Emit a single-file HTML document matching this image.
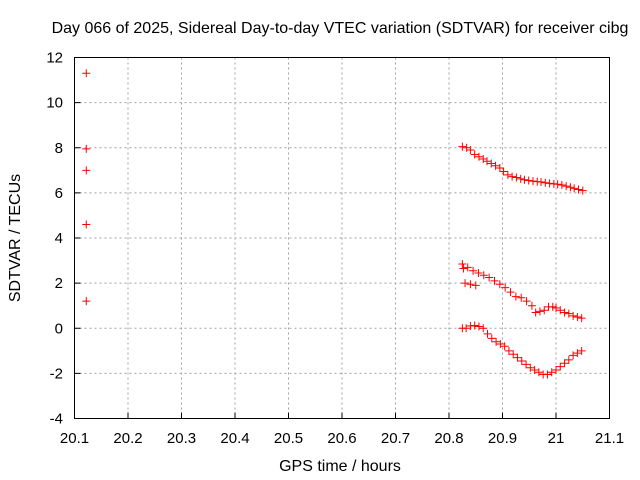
<!DOCTYPE html>
<html><head><meta charset="utf-8"><style>
body{margin:0;background:#fff}
svg{display:block;font-family:"Liberation Sans",sans-serif}
</style></head><body>
<svg id="chart" width="640" height="480" viewBox="0 0 640 480" xmlns="http://www.w3.org/2000/svg">
<rect width="640" height="480" fill="#fff"/>
<text x="340" y="33" text-anchor="middle" font-size="16">Day 066 of 2025, Sidereal Day-to-day VTEC variation (SDTVAR) for receiver cibg</text>
<text x="340" y="471" text-anchor="middle" font-size="16">GPS time / hours</text>
<text transform="translate(20,238) rotate(-90)" text-anchor="middle" font-size="16">SDTVAR / TECUs</text>
<g id="grid"></g><g id="ticks"></g><g id="marks"></g>
<rect x="74.5" y="57.5" width="535" height="361" fill="none" stroke="#000" stroke-width="1"/>
</svg>
<script>
const xTicks=[20.1,20.2,20.3,20.4,20.5,20.6,20.7,20.8,20.9,21,21.1];
const xTickLabels=["20.1","20.2","20.3","20.4","20.5","20.6","20.7","20.8","20.9","21","21.1"];
const yTicks=[-4,-2,0,2,4,6,8,10,12];
const yTickLabels=["-4","-2","0","2","4","6","8","10","12"];
const leftX=[20.122,20.122,20.122,20.122,20.122];
const leftY=[11.3,7.95,7.0,4.6,1.2];
const topX=[20.825,20.833,20.840,20.848,20.856,20.864,20.871,20.879,20.887,20.895,20.902,20.910,20.918,20.926,20.934,20.941,20.949,20.957,20.965,20.972,20.980,20.988,20.996,21.003,21.011,21.019,21.027,21.034,21.042,21.05];
const topY=[8.05,8.0,7.9,7.7,7.6,7.5,7.4,7.3,7.2,7.1,6.95,6.8,6.72,6.68,6.62,6.58,6.55,6.52,6.5,6.48,6.45,6.42,6.4,6.38,6.35,6.3,6.25,6.2,6.15,6.1];
const midX=[20.825,20.827,20.835,20.845,20.855,20.865,20.875,20.885,20.895,20.905,20.915,20.925,20.935,20.945,20.955,20.962,20.97,20.978,20.986,20.994,21.0,21.008,21.016,21.024,21.032,21.04,21.048,20.83,20.84,20.85];
const midY=[2.85,2.65,2.7,2.55,2.45,2.35,2.25,2.1,1.95,1.8,1.6,1.4,1.35,1.2,1.0,0.7,0.75,0.8,0.95,0.95,0.9,0.8,0.7,0.65,0.55,0.5,0.45,2.0,1.95,1.9];
const botX=[20.825,20.832,20.84,20.848,20.856,20.864,20.872,20.88,20.888,20.896,20.904,20.912,20.92,20.928,20.936,20.944,20.952,20.96,20.968,20.976,20.984,20.992,21.0,21.008,21.016,21.024,21.032,21.04,21.048];
const botY=[0.0,0.0,0.1,0.12,0.08,0.0,-0.25,-0.45,-0.6,-0.7,-0.8,-1.0,-1.15,-1.3,-1.45,-1.6,-1.75,-1.85,-1.95,-2.05,-2.05,-1.95,-1.85,-1.7,-1.55,-1.4,-1.2,-1.1,-1.0];
const NS="http://www.w3.org/2000/svg";
const X0=74.5,X1=609.5,Y0=418.5,Y1=57.5;
function sx(v){return X0+(v-20.1)/(1.0)*(X1-X0);}
function sy(v){return Y0-(v+4)/16*(Y0-Y1);}
function mk(tag,at,parent){const e=document.createElementNS(NS,tag);for(const k in at)e.setAttribute(k,at[k]);parent.appendChild(e);return e;}
const grid=document.getElementById('grid'),ticks=document.getElementById('ticks'),marks=document.getElementById('marks');
xTicks.forEach((t,i)=>{const x=sx(t);
 if(i>0&&i<xTicks.length-1){const g=mk('line',{x1:x,x2:x,y1:Y1,y2:Y0,stroke:'#a0a0a0','stroke-dasharray':'2,3'},grid);
 
 }
 const tl=mk('line',{x1:x,x2:x,y1:Y0,y2:Y0-6,stroke:'#000'},ticks);
 
 
 const tx=mk('text',{x:x,y:443,'text-anchor':'middle','font-size':'15'},ticks);tx.textContent=xTickLabels[i];
 
 });
yTicks.forEach((t,i)=>{const y=sy(t);
 if(i>0&&i<yTicks.length-1){const g=mk('line',{x1:X0,x2:X1,y1:y,y2:y,stroke:'#a0a0a0','stroke-dasharray':'2,3'},grid);
 
 }
 const tl=mk('line',{x1:X0,x2:X0+6,y1:y,y2:y,stroke:'#000'},ticks);
 
 
 const tx=mk('text',{x:63,y:y+5,'text-anchor':'end','font-size':'15'},ticks);tx.textContent=yTickLabels[i];
 
 });
function plus(xs,ys,name){xs.forEach((xv,i)=>{const x=sx(xv),y=sy(ys[i]);
 const p=mk('path',{d:`M${x-4},${y}H${x+4}M${x},${y-4}V${y+4}`,stroke:'#f00','stroke-width':'1',fill:'none'},marks);
 
 });}
plus(leftX,leftY,'point-early');
plus(topX,topY,'point-upper-series');
plus(midX,midY,'point-middle-series');
plus(botX,botY,'point-lower-series');
</script>
</body></html>
